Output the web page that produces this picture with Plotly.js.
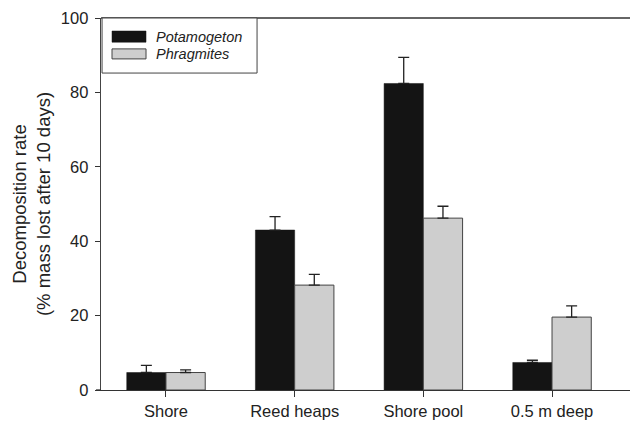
<!DOCTYPE html>
<html>
<head>
<meta charset="utf-8">
<script src="https://cdn.plot.ly/plotly-3.0.1.min.js"></script>
<style>html,body{margin:0;padding:0;background:#fff;}#chart{width:630px;height:423px;}</style>
</head>
<body>
<div id="chart"></div>
<script>
const categories = ['Shore', 'Reed heaps', 'Shore pool', '0.5 m deep'];
const seriesNames = ['Potamogeton', 'Phragmites'];
const potamogeton = [4.7, 43.0, 82.4, 7.4];
const potamogetonErr = [1.9, 3.6, 7.0, 0.6];
const phragmites = [4.7, 28.2, 46.2, 19.6];
const phragmitesErr = [0.7, 2.9, 3.2, 3.0];
const yTicks = [0, 20, 40, 60, 80, 100];

const font = 'Liberation Sans, Arial, Helvetica, sans-serif';
const xIdx = categories.map((c, i) => i);

const traces = [
  {
    type: 'bar', name: seriesNames[0], x: xIdx, y: potamogeton,
    marker: {color: '#141414', line: {color: '#141414', width: 0.5}},
    error_y: {type: 'data', symmetric: false, array: potamogetonErr,
      arrayminus: potamogetonErr.map(() => 0), color: '#222', thickness: 1.3, width: 5.5},
    showlegend: false, hoverinfo: 'skip'
  },
  {
    type: 'bar', name: seriesNames[1], x: xIdx, y: phragmites,
    marker: {color: '#cecece', line: {color: '#444', width: 1}},
    error_y: {type: 'data', symmetric: false, array: phragmitesErr,
      arrayminus: phragmitesErr.map(() => 0), color: '#222', thickness: 1.3, width: 5.5},
    showlegend: false, hoverinfo: 'skip'
  }
];

const layout = {
  width: 630, height: 423,
  margin: {l: 101, r: 0, t: 18, b: 33},
  paper_bgcolor: '#fff', plot_bgcolor: '#fff',
  barmode: 'group', bargap: 0.39, bargroupgap: 0,
  font: {family: font, size: 16, color: '#222'},
  xaxis: {
    range: [-0.505, 3.606], tickvals: xIdx, ticktext: categories,
    showgrid: false, zeroline: false, showline: true, linecolor: '#333', linewidth: 1.3,
    ticks: 'outside', ticklen: 6, tickcolor: '#333', tickwidth: 1,
    tickfont: {family: font, size: 16.5, color: '#222'}, fixedrange: true
  },
  yaxis: {
    range: [0, 100], tickvals: yTicks,
    showgrid: false, zeroline: false, showline: true, linecolor: '#444', linewidth: 1.3,
    ticks: 'outside', ticklen: 5, tickcolor: '#333', tickwidth: 1,
    ticklabelstandoff: 3,
    tickfont: {family: font, size: 16.5, color: '#222'},
    title: {text: 'Decomposition rate<br>(% mass lost after 10 days)', font: {family: font, size: 18.5, color: '#222'}, standoff: 5},
    fixedrange: true
  },
  shapes: [
    {type: 'line', xref: 'paper', yref: 'paper', x0: 0, x1: 1, y0: 1, y1: 1, line: {color: '#333', width: 1.3}},
    {type: 'line', xref: 'paper', yref: 'paper', x0: -5/529, x1: 0, y0: 0, y1: 0, line: {color: '#333', width: 1.3}},
    {type: 'rect', xref: 'paper', yref: 'paper', x0: 0.002, x1: 0.295, y0: 0.852, y1: 1.0, line: {color: '#444', width: 1}, fillcolor: '#fff'},
    {type: 'rect', xref: 'paper', yref: 'paper', x0: 0.0208, x1: 0.0851, y0: 0.935, y1: 0.965, line: {color: '#141414', width: 0.5}, fillcolor: '#141414'},
    {type: 'rect', xref: 'paper', yref: 'paper', x0: 0.0208, x1: 0.0851, y0: 0.890, y1: 0.917, line: {color: '#444', width: 1}, fillcolor: '#cecece'}
  ],
  annotations: [
    {xref: 'paper', yref: 'paper', x: 0.100, y: 0.950, xanchor: 'left', yanchor: 'middle', showarrow: false,
      text: '<i>' + seriesNames[0] + '</i>', font: {family: font, size: 14.5, color: '#222'}},
    {xref: 'paper', yref: 'paper', x: 0.100, y: 0.903, xanchor: 'left', yanchor: 'middle', showarrow: false,
      text: '<i>' + seriesNames[1] + '</i>', font: {family: font, size: 14.5, color: '#222'}}
  ]
};

Plotly.newPlot('chart', traces, layout, {staticPlot: true, displayModeBar: false});
</script>
</body>
</html>
